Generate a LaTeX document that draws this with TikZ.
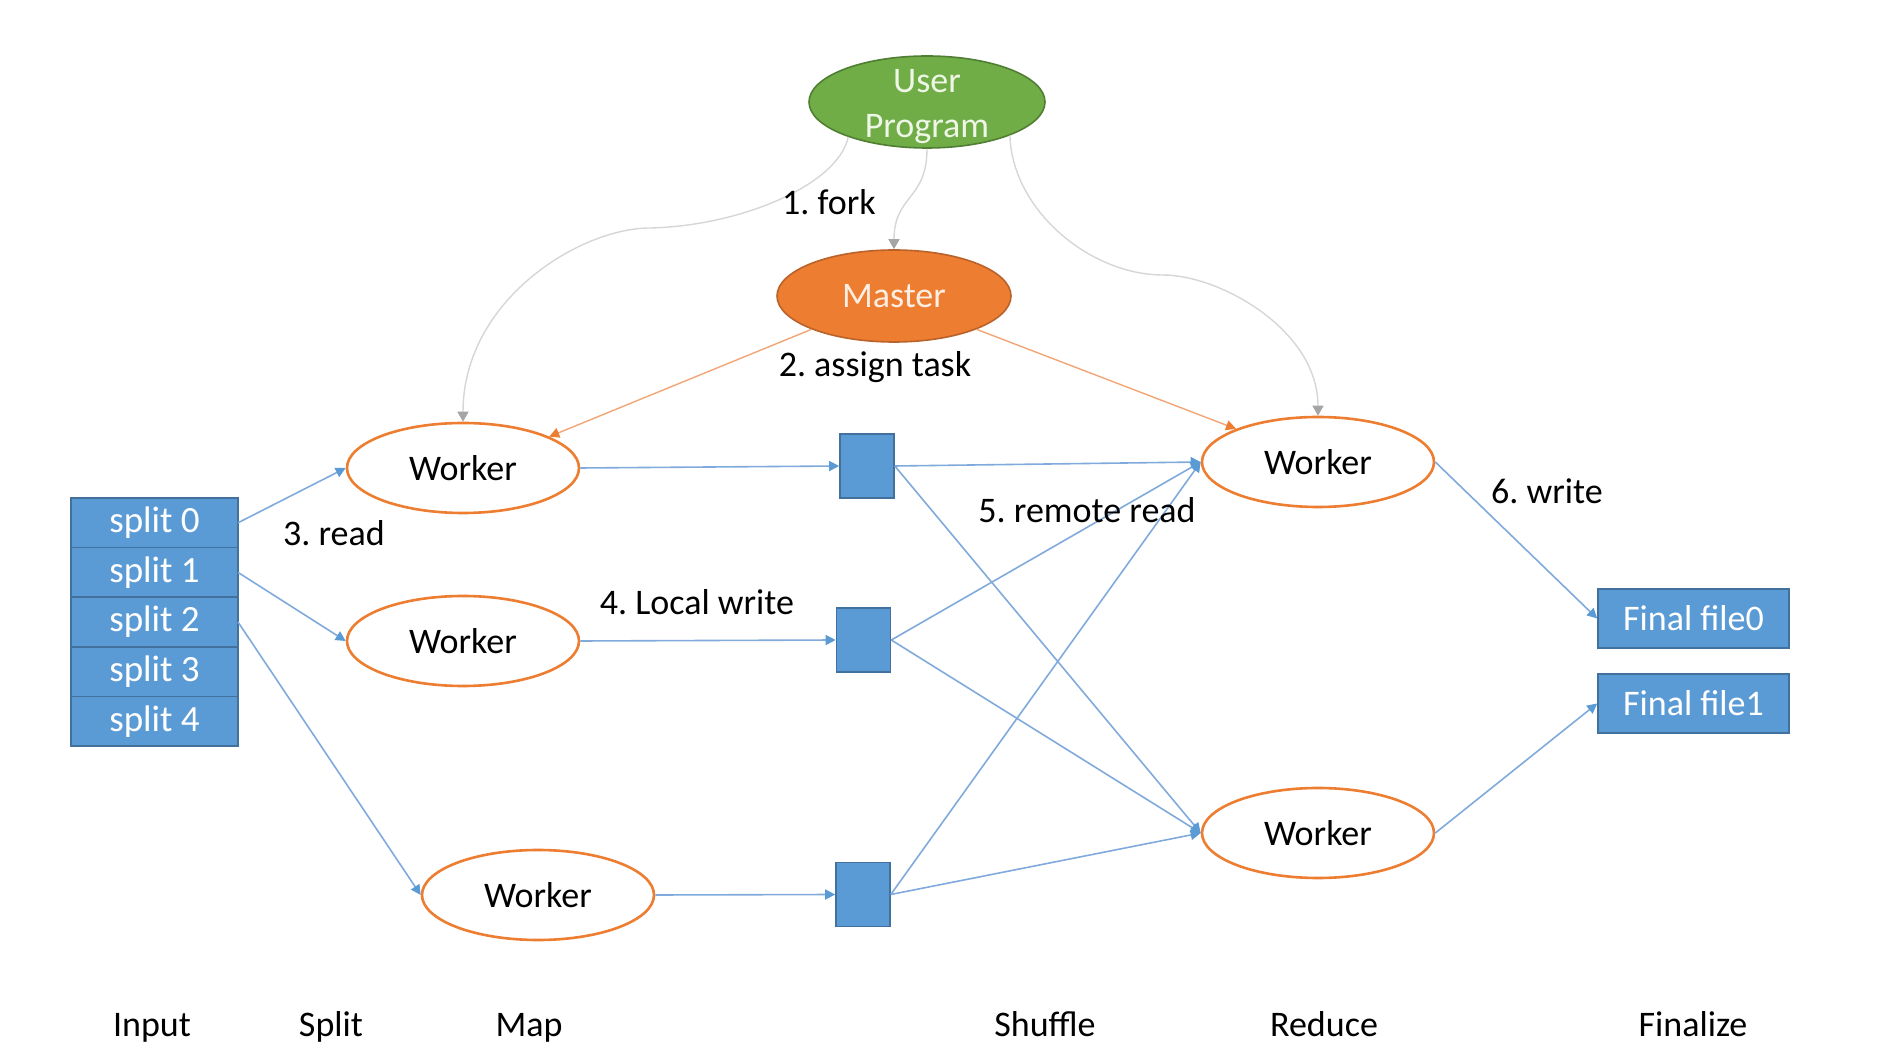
\documentclass[tikz,border=0pt]{standalone}
\usepackage{fontspec}
\setmainfont{Carlito}
\usetikzlibrary{arrows.meta,shapes.geometric}
\definecolor{bfill}{HTML}{5B9BD5}
\definecolor{bdraw}{HTML}{41719C}
\definecolor{ofill}{HTML}{ED7D31}
\definecolor{odraw}{HTML}{B9622A}
\definecolor{gfill}{HTML}{70AD47}
\definecolor{gdraw}{HTML}{507E32}
\definecolor{bline}{HTML}{80AADB}
\definecolor{btip}{HTML}{5B9BD5}
\definecolor{oline}{HTML}{F2A575}
\definecolor{gline}{HTML}{D6D6D6}
\definecolor{gtip}{HTML}{A5A5A5}
\definecolor{uptext}{HTML}{EEF6E6}
\definecolor{mtext}{HTML}{FCEEE2}
\frenchspacing
\begin{document}
\begin{tikzpicture}[x=0.5pt,y=-0.5pt,
  font=\fontsize{18}{22.5}\selectfont,
  worker/.style={ellipse,draw=ofill,line width=1.3pt,fill=white,minimum width=116pt,minimum height=45pt,inner sep=0pt},
  upstyle/.style={ellipse,draw=gdraw,line width=0.8pt,fill=gfill,minimum width=118pt,minimum height=46pt,inner sep=0pt},
  masterstyle/.style={ellipse,draw=odraw,line width=0.8pt,fill=ofill,text=mtext,minimum width=117pt,minimum height=46pt,inner sep=0pt},
  splitbox/.style={rectangle,draw=bdraw,line width=0.8pt,fill=bfill,text=white,minimum width=83.5pt,minimum height=24.8pt,inner sep=0pt,outer sep=0pt,font=\fontsize{18.5}{22.5}\selectfont},
  filebox/.style={rectangle,draw=bdraw,line width=0.8pt,fill=bfill,text=white,minimum width=95.5pt,minimum height=29.5pt,inner sep=0pt},
  sqbox/.style={rectangle,draw=bdraw,line width=0.8pt,fill=bfill,minimum width=27pt,minimum height=32pt,inner sep=0pt},
  bluearrow/.style={draw=bline,line width=0.8pt,-{Triangle[length=5pt,width=5pt,color=btip]}},
  orangearrow/.style={draw=oline,line width=0.7pt,-{Triangle[length=5pt,width=5pt,color=ofill]}},
  grayarrow/.style={draw=gline,line width=0.7pt,-{Triangle[length=5pt,width=5.5pt,color=gtip]}},
  lbl/.style={text=black,inner sep=0pt},
  stage/.style={text=black,inner sep=0pt,anchor=base}
]
\useasboundingbox (0,0) rectangle (1881,1058);

% nodes
\node[upstyle] (up) at (927,102) {};
\node[text=uptext,align=center,inner sep=0pt] (uptxt) at ([yshift=-2.5pt]up.center) {User\\Program};
\node[masterstyle] (master) at (894,296) {Master};

\node[worker] (wA) at (463,468) {Worker};
\node[worker] (wB) at (463,641) {Worker};
\node[worker] (wC) at (538,895) {Worker};
\node[worker] (r1) at (1318,462) {Worker};
\node[worker] (r2) at (1318,833) {Worker};

\node[sqbox] (sq1) at (867,466) {};
\node[sqbox] (sq2) at (863.5,640) {};
\node[sqbox] (sq3) at (863,894.5) {};

\node[splitbox] (s0) at (154.5,522.8) {split 0};
\node[splitbox] (s1) at (154.5,572.4) {split 1};
\node[splitbox] (s2) at (154.5,622.0) {split 2};
\node[splitbox] (s3) at (154.5,671.6) {split 3};
\node[splitbox] (s4) at (154.5,721.2) {split 4};

\node[filebox] (f0) at (1693.5,618.5) {Final file0};
\node[filebox] (f1) at (1693.5,703.5) {Final file1};

% gray fork curves
\coordinate (fk1) at (650,228);
\coordinate (fk2) at (1163,275);
\draw[grayarrow] (up.204) .. controls (838,185) and (740,226) .. (fk1)
  .. controls (580,228) and (463,300) .. (wA.north);
\draw[grayarrow] (up.south) .. controls (927,200) and (894,195) .. (master.north);
\draw[grayarrow] (up.338) .. controls (1012,210) and (1090,275) .. (fk2)
  .. controls (1220,275) and (1318,330) .. (r1.north);

% assign task
\draw[orangearrow] (master.202) -- (wA.20);
\draw[orangearrow] (master.338) -- (r1.158);

% read
\draw[bluearrow] (s0.east) -- (wA.west);
\draw[bluearrow] (s1.east) -- (wB.west);
\draw[bluearrow] (s2.east) -- (wC.west);

% local write
\draw[bluearrow] (wA.east) -- (sq1.west);
\draw[bluearrow] (wB.east) -- (sq2.west);
\draw[bluearrow] (wC.east) -- (sq3.west);

% remote read
\draw[bluearrow] (sq1.east) -- (r1.west);
\draw[bluearrow] (sq1.east) -- (r2.west);
\draw[bluearrow] (sq2.east) -- (r1.west);
\draw[bluearrow] (sq2.east) -- (r2.west);
\draw[bluearrow] (sq3.east) -- (r1.west);
\draw[bluearrow] (sq3.east) -- (r2.west);

% write
\draw[bluearrow] (r1.east) -- (f0.west);
\draw[bluearrow] (r2.east) -- (f1.west);

% labels
\node[lbl] (l1) at (829,202) {1. fork};
\node[lbl] (l2) at (875,367) {2. assign task};
\node[lbl] (l3) at (334,533) {3. read};
\node[lbl] (l4) at (697,602) {4. Local write};
\node[lbl] (l5) at (1087,510) {5. remote read};
\node[lbl] (l6) at (1547,491) {6. write};

\node[stage] (b1) at (152,1036) {Input};
\node[stage] (b2) at (331,1036) {Split};
\node[stage] (b3) at (529,1036) {Map};
\node[stage] (b4) at (1045,1036) {Shuffle};
\node[stage] (b5) at (1324,1036) {Reduce};
\node[stage] (b6) at (1693,1036) {Finalize};
\end{tikzpicture}
\end{document}
